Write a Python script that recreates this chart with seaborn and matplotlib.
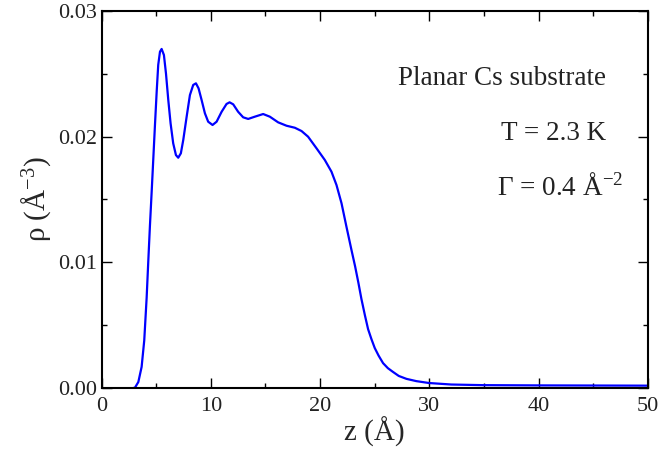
import numpy as np
import pandas as pd
import matplotlib
matplotlib.use("Agg")
import matplotlib.pyplot as plt
import seaborn as sns
from matplotlib.ticker import MultipleLocator, FormatStrFormatter

# Density profile
z = [0.0, 1.0, 2.0, 2.8, 3.06, 3.37, 3.67, 3.91, 4.13, 4.28, 4.43, 4.6, 4.68, 4.89,
     5.05, 5.19, 5.35, 5.5, 5.71, 5.9, 6.11, 6.32, 6.56, 6.81, 7.02, 7.26, 7.48,
     7.79, 8.09, 8.39, 8.64, 8.88, 9.16, 9.46, 9.76, 10.16, 10.53, 10.99, 11.44,
     11.72, 12.05, 12.5, 12.96, 13.42, 14.03, 14.79, 15.4, 16.16, 16.93, 17.69,
     18.3, 18.9, 19.67, 20.43, 21.04, 21.5, 21.96, 22.41, 22.87, 23.2, 23.5,
     23.78, 24.1, 24.39, 24.7, 25.0, 25.35, 25.76, 26.2, 26.67, 27.2, 27.9,
     28.8, 29.96, 32.0, 34.9, 40.0, 45.0, 50.0]
rho = [0.0, 0.0, 0.0, 0.0, 0.00005, 0.0005, 0.0017, 0.0038, 0.0072, 0.0101, 0.0129, 0.0158, 0.0172, 0.0209,
       0.0236, 0.0257, 0.02674, 0.02696, 0.02648, 0.0250, 0.0229, 0.02105, 0.01946, 0.01853, 0.01832, 0.01867, 0.01973,
       0.02158, 0.0233, 0.0241, 0.02423, 0.02383, 0.0229, 0.02185, 0.02118, 0.02092, 0.02118, 0.02197, 0.02259,
       0.02272, 0.02256, 0.02197, 0.02153, 0.0214, 0.02158, 0.02179, 0.02158, 0.02113, 0.02086, 0.0207,
       0.02044, 0.01999, 0.01907, 0.01814, 0.01721, 0.01615, 0.0147, 0.01284, 0.01099, 0.0097, 0.0084,
       0.0071, 0.0058, 0.0047, 0.0039, 0.0032, 0.0026, 0.0020, 0.0016, 0.0013, 0.00098, 0.00075,
       0.00057, 0.00042, 0.0003, 0.00025, 0.00023, 0.00022, 0.00021]

x_ticks = [0, 10, 20, 30, 40, 50]
y_ticks = [0.00, 0.01, 0.02, 0.03]
annotations = ["Planar Cs substrate", "T = 2.3 K", "Γ = 0.4 Å$^{-2}$"]

sns.set_theme(style="ticks")
plt.rcParams["font.family"] = ["Liberation Serif", "DejaVu Serif"]
plt.rcParams["mathtext.fontset"] = "custom"
plt.rcParams["mathtext.rm"] = "Liberation Serif"
plt.rcParams["mathtext.it"] = "Liberation Serif:italic"
plt.rcParams["mathtext.bf"] = "Liberation Serif:bold"

df = pd.DataFrame({"z": z, "rho": rho})

fig = plt.figure(figsize=(6.6, 4.55), dpi=100)
ax = fig.add_axes([0.1538, 0.1466, 0.828, 0.8299])

sns.lineplot(data=df, x="z", y="rho", color="#0000ff", linewidth=1.6,
             sort=False, estimator=None, ax=ax)

ax.set_xlim(0, 50)
ax.set_ylim(0, 0.03)
ax.set_xticks(x_ticks)
ax.set_yticks(y_ticks)
ax.xaxis.set_minor_locator(MultipleLocator(5))
ax.yaxis.set_minor_locator(MultipleLocator(0.005))
ax.yaxis.set_major_formatter(FormatStrFormatter("%.2f"))

for s in ax.spines.values():
    s.set_linewidth(1.5)
    s.set_color("black")
    s.set_visible(True)

ax.tick_params(which="both", direction="in", top=True, right=True,
               colors="black", width=1.0)
ax.tick_params(which="major", length=7.5, labelsize=16)
ax.tick_params(axis="x", which="major", pad=6)
ax.tick_params(axis="y", which="major", pad=3)
ax.tick_params(which="minor", length=3.8)
for lab in ax.get_xticklabels() + ax.get_yticklabels():
    lab.set_color("#222222")

ax.set_xlabel("z (Å)", fontsize=21, labelpad=1)
ax.set_ylabel("ρ (Å$^{-3}$)", fontsize=21, labelpad=4)

ax.text(46.2, 0.0241, annotations[0], fontsize=19.5, ha="right", va="baseline", color="#222222")
ax.text(46.2, 0.01973, annotations[1], fontsize=19.5, ha="right", va="baseline", color="#222222")
ax.text(47.7, 0.01536, annotations[2], fontsize=19.5, ha="right", va="baseline", color="#222222")

fig.savefig("out.png", dpi=100)
